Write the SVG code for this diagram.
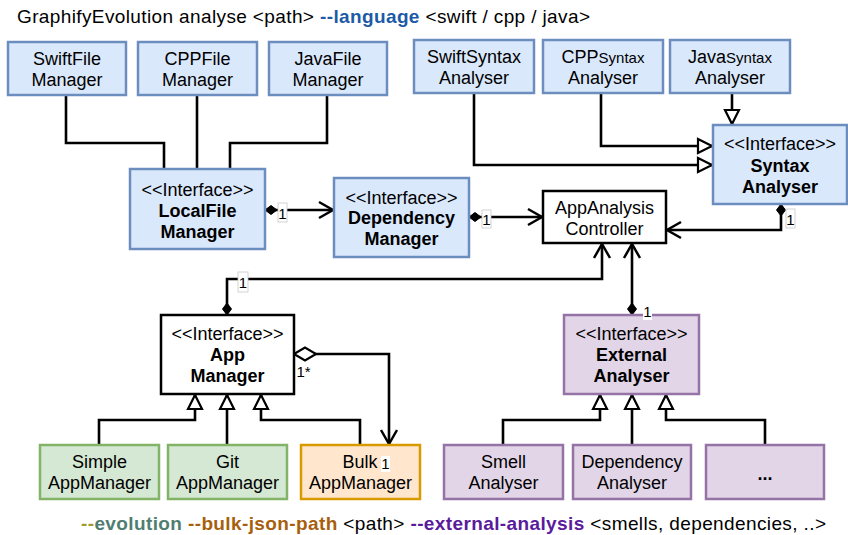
<svg xmlns="http://www.w3.org/2000/svg" width="848" height="535" viewBox="0 0 848 535">
  <style>
    text { font-family: "Liberation Sans", Arial, Helvetica, sans-serif; font-size: 18px; fill: #000; }
    .c { text-anchor: middle; }
    .b { font-weight: bold; }
    .cmd { font-size: 19px; }
    .blue { fill: #dae8fc; stroke: #6c8ebf; stroke-width: 2.5; }
    .green { fill: #d5e8d4; stroke: #82b366; stroke-width: 2.5; }
    .orange { fill: #ffe6cc; stroke: #d79b00; stroke-width: 2.5; }
    .purple { fill: #e1d5e7; stroke: #9673a6; stroke-width: 2.5; }
    .plain { fill: #fff; stroke: #000; stroke-width: 2.5; }
    .edge { fill: none; stroke: #000; stroke-width: 2.6; }
    .arrow { marker-end: url(#open); }
    .inherit { marker-end: url(#tri); }
    .comp { marker-start: url(#dia); }
    .aggr { marker-start: url(#hdia); }
    .lbl { fill: #fff; stroke: #c8c8c8; stroke-width: 0.8; }
    .lt { font-size: 15px; text-anchor: middle; }
    .sm { font-size: 15px; }
  </style>
  <defs>
    <marker id="open" markerUnits="userSpaceOnUse" markerWidth="16" markerHeight="18" refX="14" refY="8" orient="auto" overflow="visible">
      <path d="M0,0 L14,8 L0,16" fill="none" stroke="#000" stroke-width="2.5"/>
    </marker>
    <marker id="tri" markerUnits="userSpaceOnUse" markerWidth="15" markerHeight="15" refX="14" refY="7" orient="auto" overflow="visible">
      <path d="M0,0 L14,7 L0,14 Z" fill="#fff" stroke="#000" stroke-width="2.2"/>
    </marker>
    <marker id="dia" markerUnits="userSpaceOnUse" markerWidth="13" markerHeight="10" refX="0" refY="5" orient="auto" overflow="visible">
      <path d="M0,5 L6,0.5 L12,5 L6,9.5 Z" fill="#000" stroke="#000" stroke-width="1"/>
    </marker>
    <marker id="hdia" markerUnits="userSpaceOnUse" markerWidth="23" markerHeight="14" refX="0" refY="6.5" orient="auto" overflow="visible">
      <path d="M0,6.5 L11,0 L22,6.5 L11,13 Z" fill="#fff" stroke="#000" stroke-width="2.2"/>
    </marker>
  </defs>

  <rect width="848" height="535" fill="#fff"/>

  <!-- command line -->
  <text class="cmd" x="17" y="23" textLength="573" lengthAdjust="spacing">GraphifyEvolution analyse &lt;path&gt; <tspan class="b" fill="#1c5aa6">--language</tspan> &lt;swift / cpp / java&gt;</text>

  <!-- connectors -->
  <g id="connectors">
    <path class="edge" d="M66,95 V143 H164 V169"/>
    <path class="edge" d="M197,95 V169"/>
    <path class="edge" d="M327,95 V143 H230 V169"/>
    <path class="edge comp arrow" d="M265,210 H333"/>
    <path class="edge comp arrow" d="M469,217 H542"/>
    <path class="edge inherit" d="M474,93 V165 H712"/>
    <path class="edge inherit" d="M601,93 V146 H712"/>
    <path class="edge inherit" d="M732,93 V124"/>
    <path class="edge comp arrow" d="M781,204 V230 H667"/>
    <path class="edge comp arrow" d="M227,315 V279 H602 V244"/>
    <path class="edge comp arrow" d="M632,315 V244"/>
    <path class="edge aggr arrow" d="M294,354 H389 V444"/>
    <path class="edge inherit" d="M99,445 V420 H195 V395"/>
    <path class="edge inherit" d="M227,445 V395"/>
    <path class="edge inherit" d="M360,445 V420 H261 V395"/>
    <path class="edge inherit" d="M503,445 V420 H600 V395"/>
    <path class="edge inherit" d="M632,445 V395"/>
    <path class="edge inherit" d="M765,445 V420 H666 V395"/>
  </g>

  <!-- file managers -->
  <g id="swift-file-manager">
    <rect class="blue" x="8" y="42" width="118" height="53"/>
    <text class="c" x="67" y="65">SwiftFile</text>
    <text class="c" x="67" y="86">Manager</text>
  </g>
  <g id="cpp-file-manager">
    <rect class="blue" x="138" y="42" width="119" height="53"/>
    <text class="c" x="197.5" y="65">CPPFile</text>
    <text class="c" x="197.5" y="86">Manager</text>
  </g>
  <g id="java-file-manager">
    <rect class="blue" x="269" y="42" width="118" height="53"/>
    <text class="c" x="328" y="65">JavaFile</text>
    <text class="c" x="328" y="86">Manager</text>
  </g>
  <g id="local-file-manager">
    <rect class="blue" x="130" y="169" width="135" height="80"/>
    <text class="c" x="197.5" y="196">&lt;&lt;Interface&gt;&gt;</text>
    <text class="c b" x="197.5" y="217">LocalFile</text>
    <text class="c b" x="197.5" y="238">Manager</text>
  </g>
  <g id="dependency-manager">
    <rect class="blue" x="334" y="178" width="135" height="79"/>
    <text class="c" x="401.5" y="204">&lt;&lt;Interface&gt;&gt;</text>
    <text class="c b" x="401.5" y="224">Dependency</text>
    <text class="c b" x="401.5" y="245">Manager</text>
  </g>

  <!-- syntax analysers -->
  <g id="swift-syntax-analyser">
    <rect class="blue" x="414" y="40" width="120" height="53"/>
    <text class="c" x="474" y="63">SwiftSyntax</text>
    <text class="c" x="474" y="84">Analyser</text>
  </g>
  <g id="cpp-syntax-analyser">
    <rect class="blue" x="543" y="40" width="120" height="53"/>
    <text class="c" x="603" y="63">CPP<tspan class="sm">Syntax</tspan></text>
    <text class="c" x="603" y="84">Analyser</text>
  </g>
  <g id="java-syntax-analyser">
    <rect class="blue" x="670" y="40" width="120" height="53"/>
    <text class="c" x="730" y="63">Java<tspan class="sm">Syntax</tspan></text>
    <text class="c" x="730" y="84">Analyser</text>
  </g>
  <g id="syntax-analyser">
    <rect class="blue" x="713" y="125" width="134" height="79"/>
    <text class="c" x="780" y="150">&lt;&lt;Interface&gt;&gt;</text>
    <text class="c b" x="780" y="172">Syntax</text>
    <text class="c b" x="780" y="193">Analyser</text>
  </g>

  <!-- controller -->
  <g id="app-analysis-controller">
    <rect class="plain" x="543" y="191" width="123" height="52"/>
    <text class="c" x="604.5" y="214">AppAnalysis</text>
    <text class="c" x="604.5" y="235">Controller</text>
  </g>

  <!-- app managers -->
  <g id="app-manager">
    <rect class="plain" x="161" y="315" width="133" height="79"/>
    <text class="c" x="227.5" y="340">&lt;&lt;Interface&gt;&gt;</text>
    <text class="c b" x="227.5" y="361">App</text>
    <text class="c b" x="227.5" y="382">Manager</text>
  </g>
  <g id="simple-app-manager">
    <rect class="green" x="40" y="445" width="119" height="54"/>
    <text class="c" x="99.5" y="468">Simple</text>
    <text class="c" x="99.5" y="489">AppManager</text>
  </g>
  <g id="git-app-manager">
    <rect class="green" x="168" y="445" width="119" height="54"/>
    <text class="c" x="227.5" y="468">Git</text>
    <text class="c" x="227.5" y="489">AppManager</text>
  </g>
  <g id="bulk-app-manager">
    <rect class="orange" x="301" y="445" width="119" height="54"/>
    <text class="c" x="360" y="468">Bulk</text>
    <text class="c" x="360.5" y="489">AppManager</text>
  </g>

  <!-- external analysers -->
  <g id="external-analyser">
    <rect class="purple" x="564" y="315" width="135" height="79"/>
    <text class="c" x="631.5" y="340">&lt;&lt;Interface&gt;&gt;</text>
    <text class="c b" x="631.5" y="361">External</text>
    <text class="c b" x="631.5" y="382">Analyser</text>
  </g>
  <g id="smell-analyser">
    <rect class="purple" x="444" y="445" width="119" height="54"/>
    <text class="c" x="503.5" y="468">Smell</text>
    <text class="c" x="503.5" y="489">Analyser</text>
  </g>
  <g id="dependency-analyser">
    <rect class="purple" x="573" y="445" width="118" height="54"/>
    <text class="c" x="632" y="468">Dependency</text>
    <text class="c" x="632" y="489">Analyser</text>
  </g>
  <g id="more-analysers">
    <rect class="purple" x="706" y="445" width="118" height="54"/>
    <text class="c b" x="765" y="480">...</text>
  </g>

  <!-- multiplicity labels on the connector ends -->
  <g id="multiplicities">
    <rect class="lbl" x="278" y="203" width="9" height="19"/>
    <text class="lt" x="282.5" y="219">1</text>
    <rect class="lbl" x="482" y="210" width="9" height="18"/>
    <text class="lt" x="486.5" y="225">1</text>
    <rect class="lbl" x="786" y="209" width="9" height="19"/>
    <text class="lt" x="790.5" y="225">1</text>
    <rect class="lbl" x="238" y="272" width="10" height="20"/>
    <text class="lt" x="243" y="288">1</text>
    <rect x="297" y="363" width="13" height="15" fill="#fff"/>
    <text class="lt" x="303.5" y="377">1*</text>
    <rect x="643" y="302" width="9" height="18" fill="#fff"/>
    <text class="lt" x="647.5" y="317">1</text>
    <rect x="381" y="456" width="9" height="16" fill="#fff"/>
    <text class="lt" x="385.5" y="469" font-size="13">1</text>
  </g>

  <!-- option line -->
  <text class="cmd" x="81" y="530" textLength="745" lengthAdjust="spacing"><tspan class="b" fill="#9c9c2c">--</tspan><tspan class="b" fill="#4f7d72">evolution</tspan> <tspan class="b" fill="#a75f0d">--bulk-json-path</tspan> &lt;path&gt; <tspan class="b" fill="#5a1a9c">--external-analysis</tspan> &lt;smells, dependencies, ..&gt;</text>
</svg>
